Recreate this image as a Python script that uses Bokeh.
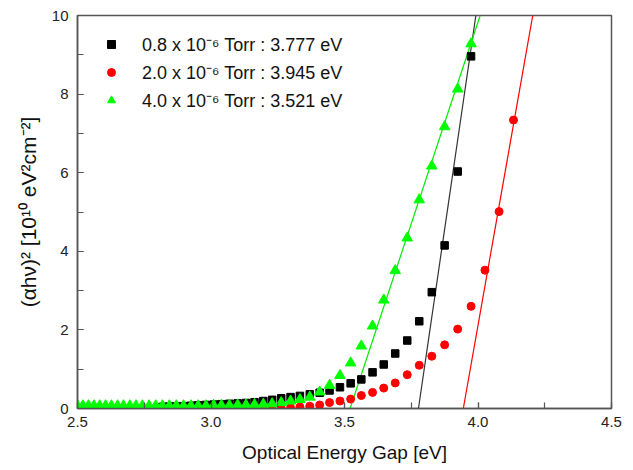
from bokeh.plotting import figure
from bokeh.models import (Range1d, SingleIntervalTicker, NumeralTickFormatter,
                          Legend, LegendItem)
from bokeh.embed import file_html
from bokeh.resources import INLINE

# ---------------- data ----------------
energy_08 = [2.818, 2.844, 2.870, 2.897, 2.925, 2.952, 2.981, 3.010, 3.039, 3.069,
             3.100, 3.131, 3.163, 3.196, 3.229, 3.263, 3.298, 3.333, 3.370, 3.407,
             3.444, 3.483, 3.523, 3.563, 3.605, 3.647, 3.690, 3.735, 3.780, 3.827,
             3.875, 3.924, 3.974]
ahv2_08 = [0.04, 0.05, 0.05, 0.06, 0.07, 0.08, 0.09, 0.10, 0.11, 0.12,
           0.13, 0.14, 0.16, 0.19, 0.22, 0.26, 0.29, 0.32, 0.36, 0.40,
           0.46, 0.54, 0.64, 0.74, 0.92, 1.12, 1.40, 1.73, 2.22, 2.96,
           4.15, 6.03, 8.96]

energy_20 = [2.768, 2.793, 2.818, 2.844, 2.870, 2.897, 2.925, 2.952, 2.981, 3.010,
             3.039, 3.069, 3.100, 3.131, 3.163, 3.196, 3.229, 3.263, 3.298, 3.333,
             3.370, 3.407, 3.444, 3.483, 3.523, 3.563, 3.605, 3.647, 3.690, 3.735,
             3.780, 3.827, 3.875, 3.924, 3.974, 4.026, 4.079, 4.133]
ahv2_20 = [-0.06, -0.06, -0.06, -0.06, -0.06, -0.06, -0.06, -0.06, -0.06, -0.06,
           -0.06, -0.06, -0.06, -0.06, -0.06, -0.04, -0.02, 0.00, 0.02, 0.04,
           0.06, 0.09, 0.15, 0.19, 0.24, 0.33, 0.41, 0.52, 0.65, 0.86,
           1.10, 1.33, 1.62, 2.02, 2.60, 3.52, 5.01, 7.34]

energy_40 = [2.500, 2.520, 2.541, 2.562, 2.583, 2.605, 2.627, 2.650, 2.672, 2.696,
             2.719, 2.743, 2.768, 2.793, 2.818, 2.844, 2.870, 2.897, 2.925, 2.952,
             2.981, 3.010, 3.039, 3.069, 3.100, 3.131, 3.163, 3.196, 3.229, 3.263,
             3.298, 3.333, 3.370, 3.407, 3.444, 3.483, 3.523, 3.563, 3.605, 3.647,
             3.690, 3.735, 3.780, 3.827, 3.875, 3.924, 3.974]
ahv2_40 = [0.07, 0.07, 0.07, 0.07, 0.07, 0.07, 0.07, 0.07, 0.07, 0.07,
           0.07, 0.07, 0.07, 0.07, 0.07, 0.07, 0.07, 0.07, 0.07, 0.07,
           0.07, 0.08, 0.08, 0.08, 0.09, 0.09, 0.10, 0.11, 0.12, 0.15,
           0.19, 0.23, 0.29, 0.42, 0.59, 0.84, 1.16, 1.59, 2.10, 2.76,
           3.51, 4.34, 5.31, 6.17, 7.17, 8.13, 9.28]

# linear fits: x-intercept (optical gap) and x where the fit reaches the top
fit_gap = [3.777, 3.945, 3.521]
fit_top_x = [3.992, 4.205, 4.008]
fit_y = [0, 10]

labels = ["0.8 x 10\u207b\u2076 Torr : 3.777 eV",
          "2.0 x 10\u207b\u2076 Torr : 3.945 eV",
          "4.0 x 10\u207b\u2076 Torr : 3.521 eV"]
x_label = "Optical Energy Gap [eV]"
y_label = "(\u03b1h\u03bd)\u00b2 [10\u00b9\u2070 eV\u00b2cm\u207b\u00b2]"

# ---------------- figure ----------------
FONT = "Liberation Sans"
AX = "#555555"

p = figure(width=633, height=470, output_backend="svg", toolbar_location=None,
           x_range=Range1d(2.5, 4.5), y_range=Range1d(0, 10))
p.min_border_left = 77
p.min_border_right = 22
p.min_border_top = 15
p.min_border_bottom = 62
p.background_fill_color = "white"
p.border_fill_color = "white"
p.outline_line_color = AX
p.outline_line_width = 1.5
p.grid.visible = False

p.xaxis.ticker = SingleIntervalTicker(interval=0.5, num_minor_ticks=2)
p.yaxis.ticker = SingleIntervalTicker(interval=2, num_minor_ticks=2)
p.xaxis.formatter = NumeralTickFormatter(format="0.0")
p.yaxis.formatter = NumeralTickFormatter(format="0")
for ax in (p.xaxis, p.yaxis):
    ax.axis_line_color = AX
    ax.axis_line_width = 1.5
    ax.major_tick_line_color = AX
    ax.minor_tick_line_color = AX
    ax.major_tick_line_width = 1.2
    ax.minor_tick_line_width = 1.2
    ax.major_tick_in = 6
    ax.major_tick_out = 0
    ax.minor_tick_in = 6
    ax.minor_tick_out = 0
    ax.major_label_text_font = FONT
    ax.major_label_text_font_size = "15px"
    ax.major_label_text_color = "#222222"
    ax.axis_label_text_font = FONT
    ax.axis_label_text_font_style = "normal"
    ax.axis_label_text_color = "#111111"
p.xaxis.axis_label_text_font_size = "19px"
p.yaxis.axis_label_text_font_size = "21px"
p.xaxis.major_label_standoff = 8
p.yaxis.major_label_standoff = 9
p.xaxis.axis_label = x_label
p.yaxis.axis_label = y_label
p.xaxis.axis_label_standoff = 12
p.yaxis.axis_label_standoff = 9

# fit lines
p.line([fit_gap[0], fit_top_x[0]], fit_y, line_color="#333333", line_width=1.2)
p.line([fit_gap[1], fit_top_x[1]], fit_y, line_color="#ff0000", line_width=1.2)
p.line([fit_gap[2], fit_top_x[2]], fit_y, line_color="#00ee00", line_width=1.2)

# data points
r08 = p.scatter(energy_08, ahv2_08, marker="square", size=7.5,
                fill_color="black", line_color="black")
r20 = p.scatter(energy_20, ahv2_20, marker="circle", size=8,
                fill_color="#ff0000", line_color="#ff0000")
r40 = p.scatter(energy_40, ahv2_40, marker="triangle", size=10.5,
                fill_color="#00ff00", line_color="#00ff00")

legend = Legend(items=[LegendItem(label=labels[0], renderers=[r08]),
                       LegendItem(label=labels[1], renderers=[r20]),
                       LegendItem(label=labels[2], renderers=[r40])],
                location=(19, 291), margin=0, padding=5, spacing=4,
                glyph_width=20, glyph_height=24, label_height=24,
                label_standoff=21, border_line_alpha=0, background_fill_alpha=0,
                label_text_font=FONT, label_text_font_size="18px",
                label_text_color="#111111")
p.add_layout(legend)

open("out.html", "w").write(file_html(p, INLINE))
